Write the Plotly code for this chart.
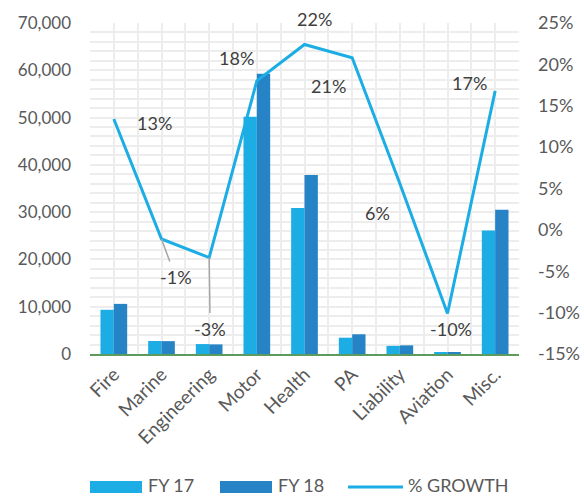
import plotly.graph_objects as go

categories = ["Fire", "Marine", "Engineering", "Motor", "Health", "PA",
              "Liability", "Aviation", "Misc."]
fy17 = [9350, 2750, 2100, 50200, 30900, 3450, 1720, 260, 26100]
fy18 = [10600, 2720, 2030, 59250, 37880, 4170, 1825, 234, 30480]
growth = [0.134, -0.011, -0.0335, 0.180, 0.224, 0.208, 0.056, -0.101, 0.168]

left_ticks = [0, 10000, 20000, 30000, 40000, 50000, 60000, 70000]
left_text = ["0", "10,000", "20,000", "30,000", "40,000", "50,000", "60,000", "70,000"]
right_ticks = [-0.15, -0.10, -0.05, 0.0, 0.05, 0.10, 0.15, 0.20, 0.25]
right_text = ["-15%", "-10%", "-5%", "0%", "5%", "10%", "15%", "20%", "25%"]

# pixel offsets of each growth label from its point (x right, y up)
label_shift = [(41, -4), None, None, (-20, 23), (10, 26), (-24, -28),
               (-22, -29), (3, -16), (-26, 8)]
# labels tied to their points by a leader line (offset x right, y down)
leader = {1: (14, 38), 2: (1, 71)}

FONT = "Lato"
TXT = "#595959"
GRID = "#EDEDED"
C17, C18 = "#1CADE4", "#2683C6"

# figure / plot-area geometry in pixels
W, H = 584, 496
ML, MR, MT, MB = 90, 65, 23, 142
PW, PH = W - ML - MR, H - MT - MB

idx = list(range(len(categories)))

fig = go.Figure()
fig.add_trace(go.Bar(x=idx, y=fy17, name="FY 17", marker_color=C17,
                     marker_line_width=0))
fig.add_trace(go.Bar(x=idx, y=fy18, name="FY 18", marker_color=C18,
                     marker_line_width=0))
fig.add_trace(go.Scatter(x=idx, y=growth, name="% GROWTH", yaxis="y2",
                         mode="lines", line=dict(color=C17, width=3)))

annotations = []
for i, g in enumerate(growth):
    text = f"{g:.0%}".replace("\u2212", "-")
    if i in leader:
        ax, ay = leader[i]
        annotations.append(dict(x=i, y=g, xref="x", yref="y2", text=text,
                                showarrow=True, arrowhead=0, arrowwidth=1.5,
                                arrowcolor="#A6A6A6", ax=ax, ay=ay,
                                standoff=0, borderpad=4,
                                font=dict(family=FONT, size=18, color="#404040")))
    else:
        dx, dy = label_shift[i]
        annotations.append(dict(x=i, y=g, xref="x", yref="y2", text=text,
                                showarrow=False, xshift=dx, yshift=dy,
                                font=dict(family=FONT, size=18, color="#404040")))


# legend row below the axis labels: wide keys followed by the series name
def px_x(p):
    return (p - ML) / PW


def px_y(p):
    return (H - MB - p) / PH


legend_row = [("FY 17", "bar", C17, 90), ("FY 18", "bar", C18, 220),
              ("% GROWTH", "line", C17, 348)]
KEY_W, KEY_H, ROW_Y = 52, 12, 487
shapes = []
for name, kind, color, left in legend_row:
    if kind == "bar":
        shapes.append(dict(type="rect", xref="paper", yref="paper",
                           x0=px_x(left), x1=px_x(left + KEY_W),
                           y0=px_y(ROW_Y + KEY_H / 2), y1=px_y(ROW_Y - KEY_H / 2),
                           fillcolor=color, line=dict(width=0)))
        text_left = left + KEY_W + 5
    else:
        shapes.append(dict(type="line", xref="paper", yref="paper",
                           x0=px_x(left), x1=px_x(left + 55),
                           y0=px_y(ROW_Y), y1=px_y(ROW_Y),
                           line=dict(color=color, width=3)))
        text_left = left + 59
    annotations.append(dict(x=px_x(text_left), y=px_y(ROW_Y - 2), xref="paper",
                            yref="paper", xanchor="left", yanchor="middle",
                            text=name, showarrow=False, borderpad=0,
                            font=dict(family=FONT, size=18, color=TXT)))

fig.update_layout(
    width=W, height=H,
    margin=dict(l=ML, r=MR, t=MT, b=MB, autoexpand=False),
    paper_bgcolor="white", plot_bgcolor="white",
    barmode="group", bargap=0.44, bargroupgap=0,
    font=dict(family=FONT, size=18, color=TXT),
    showlegend=False,
    xaxis=dict(range=[-0.5, len(categories) - 0.5], tickmode="array",
               tickvals=idx, ticktext=categories, tickangle=-45,
               showgrid=True, gridcolor=GRID, gridwidth=2,
               minor=dict(dtick=0.5, tick0=-0.5, showgrid=True,
                          gridcolor=GRID, gridwidth=2),
               showline=True, linecolor="#5B9B5B", linewidth=2,
               zeroline=False, ticks="", automargin=False,
               tickfont=dict(size=19, color=TXT)),
    yaxis=dict(range=[0, 70000], tickmode="array", tickvals=left_ticks,
               ticktext=left_text, showgrid=True, gridcolor=GRID, gridwidth=2,
               minor=dict(dtick=2000, showgrid=True, gridcolor=GRID,
                          gridwidth=2),
               zeroline=False, ticks="", ticklabelstandoff=18,
               automargin=False, tickfont=dict(size=17, color=TXT)),
    yaxis2=dict(range=[-0.15, 0.25], overlaying="y", side="right",
                tickmode="array", tickvals=right_ticks, ticktext=right_text,
                showgrid=False, zeroline=False, ticks="",
                ticklabelstandoff=18, automargin=False,
                tickfont=dict(size=18, color=TXT)),
    annotations=annotations,
    shapes=shapes,
)

fig.write_html("out.html")
